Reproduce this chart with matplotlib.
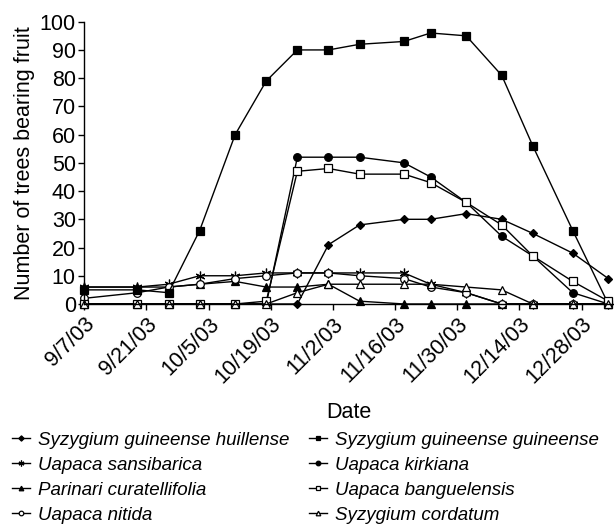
import datetime as dt
import matplotlib
matplotlib.use("Agg")
import matplotlib.pyplot as plt

plt.rcParams["font.family"] = ["Liberation Sans", "DejaVu Sans"]

# sampling dates
dates = ["2003-09-07", "2003-09-19", "2003-09-26", "2003-10-03", "2003-10-11",
         "2003-10-18", "2003-10-25", "2003-11-01", "2003-11-08", "2003-11-18",
         "2003-11-24", "2003-12-02", "2003-12-10", "2003-12-17", "2003-12-26",
         "2004-01-03"]

huillense = [0, 0, 0, 0, 0, 0, 0, 21, 28, 30, 30, 32, 30, 25, 18, 9]
guineense = [5, 5, 4, 26, 60, 79, 90, 90, 92, 93, 96, 95, 81, 56, 26, 0]
sansibarica = [6, 6, 7, 10, 10, 11, 11, 11, 11, 11, 7, 4, 0, 0, 0, 0]
kirkiana = [0, 0, 0, 0, 0, 0, 52, 52, 52, 50, 45, 36, 24, 17, 4, 0]
parinari = [6, 6, 6, 7, 8, 6, 6, 7, 1, 0, 0, 0, 0, 0, 0, 0]
banguelensis = [0, 0, 0, 0, 0, 1, 47, 48, 46, 46, 43, 36, 28, 17, 8, 1]
nitida = [2, 4, 6, 7, 9, 10, 11, 11, 10, 9, 6, 4, 0, 0, 0, 0]
cordatum = [0, 0, 0, 0, 0, 0, 4, 7, 7, 7, 7, 6, 5, 0, 0, 0]

tick_dates = ["2003-09-07", "2003-09-21", "2003-10-05", "2003-10-19", "2003-11-02",
              "2003-11-16", "2003-11-30", "2003-12-14", "2003-12-28"]
tick_labels = ["9/7/03", "9/21/03", "10/5/03", "10/19/03", "11/2/03",
               "11/16/03", "11/30/03", "12/14/03", "12/28/03"]

x = [dt.datetime.strptime(d, "%Y-%m-%d") for d in dates]
ticks = [dt.datetime.strptime(d, "%Y-%m-%d") for d in tick_dates]

fig = plt.figure(figsize=(6.14, 5.32), dpi=100)
ax = fig.add_axes([0.137, 0.4286, 0.861, 0.5306])

series = [
    ("Syzygium guineense huillense", huillense, "D", "black", 4.5),
    ("Uapaca sansibarica", sansibarica, (6, 2, 0), "black", 7),
    ("Parinari curatellifolia", parinari, "^", "black", 5.5),
    ("Uapaca nitida", nitida, "o", "white", 5.5),
    ("Syzygium guineense guineense", guineense, "s", "black", 5.5),
    ("Uapaca kirkiana", kirkiana, "o", "black", 5.5),
    ("Uapaca banguelensis", banguelensis, "s", "white", 5.5),
    ("Syzygium cordatum", cordatum, "^", "white", 5.5),
]

handles = []
for name, vals, mk, fc, ms in series:
    ln, = ax.plot(x, vals, color="black", lw=1.0, marker=mk, markersize=ms,
                  markerfacecolor=fc, markeredgecolor="black", markeredgewidth=0.9,
                  label=name, clip_on=False)
    handles.append(ln)

ax.set_ylim(0, 100)
ax.set_yticks(range(0, 101, 10))
ax.set_xlim(ticks[0], dt.datetime(2004, 1, 4))
ax.set_xticks(ticks)
ax.set_xticklabels(tick_labels, rotation=45, ha="right", rotation_mode="anchor")
ax.tick_params(labelsize=15.5, length=4, width=1, colors="black")
ax.tick_params(axis="y", pad=2)
ax.tick_params(axis="x", pad=3)
for s in ["top", "right"]:
    ax.spines[s].set_visible(False)
for s in ["left", "bottom"]:
    ax.spines[s].set_linewidth(1.0)

ax.set_ylabel("Number of trees bearing fruit", fontsize=15.5, labelpad=3)
fig.text(0.568, 0.225, "Date", fontsize=15.5, ha="center", va="center")

leg = fig.legend(handles=handles, labels=[h.get_label() for h in handles],
                 ncol=2, loc="upper left", bbox_to_anchor=(0.01, 0.199),
                 frameon=False, prop={"style": "italic", "size": 13.5},
                 markerscale=0.6, handlelength=0.95, handletextpad=0.43,
                 columnspacing=1.05, labelspacing=0.42, borderaxespad=0.0,
                 borderpad=0.3)

fig.savefig("out.png", dpi=100)
